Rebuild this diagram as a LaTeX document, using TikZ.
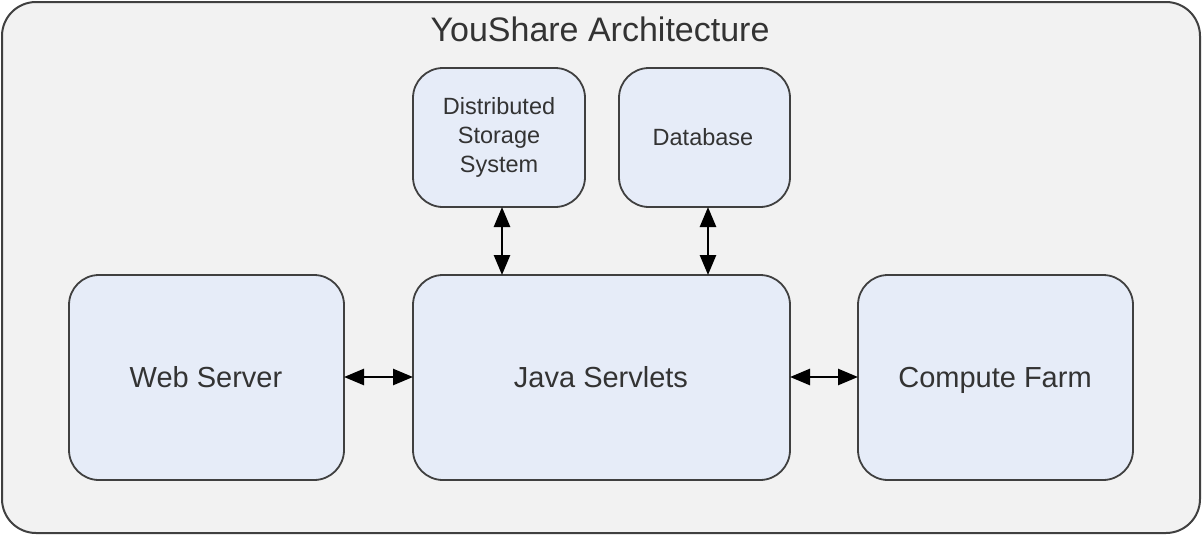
\documentclass[tikz,border=0pt]{standalone}
\usepackage{fontspec}
\setmainfont{Liberation Sans}
\usetikzlibrary{arrows.meta}
\definecolor{boxfill}{HTML}{E6ECF8}
\definecolor{outerfill}{HTML}{F2F2F2}
\definecolor{edge}{HTML}{404040}
\definecolor{txt}{HTML}{333333}
\tikzset{
  comp/.style={draw=edge, line width=1.8pt, fill=boxfill, rounded corners=30pt},
  link/.style={line width=2.6pt, {Triangle[length=20pt,width=16pt]}-{Triangle[length=20pt,width=16pt]}}
}
\begin{document}
\begin{tikzpicture}[x=1pt,y=-1pt]
\useasboundingbox (0,0) rectangle (1203,536);
\draw[draw=edge, line width=2pt, fill=outerfill, rounded corners=34pt] (2,2) rectangle (1200,533);
\node[font=\fontsize{34}{40}\selectfont, text=txt] (title) at (600,29) {YouShare Architecture};
\draw[comp] (413,68) rectangle (585,207);
\node[font=\fontsize{23.5}{29}\selectfont, align=center, text=txt] (dss) at (499,137) {Distributed\\Storage\\System};
\coordinate (dssb) at (502,207);
\draw[comp] (619,68) rectangle (790,207);
\node[font=\fontsize{23.5}{29}\selectfont, text=txt] (db) at (703,137) {Database};
\coordinate (dbb) at (708,207);
\draw[comp] (69,275) rectangle (344,480);
\node[font=\fontsize{29}{34}\selectfont, text=txt, anchor=base] (web) at (206,387) {Web Server};
\draw[comp] (413,275) rectangle (790,480);
\node[font=\fontsize{29}{34}\selectfont, text=txt, anchor=base] (java) at (601,387) {Java Servlets};
\draw[comp] (858,275) rectangle (1133,480);
\node[font=\fontsize{29}{34}\selectfont, text=txt, anchor=base] (cf) at (995,387) {Compute Farm};
\coordinate (webr) at (344,377); \coordinate (javal) at (413,377);
\coordinate (javar) at (790,377); \coordinate (cfl) at (858,377);
\coordinate (javat1) at (502,275); \coordinate (javat2) at (708,275);
\draw[link] (webr) -- (javal);
\draw[link] (javar) -- (cfl);
\draw[link] (dssb) -- (javat1);
\draw[link] (dbb) -- (javat2);
\end{tikzpicture}
\end{document}
